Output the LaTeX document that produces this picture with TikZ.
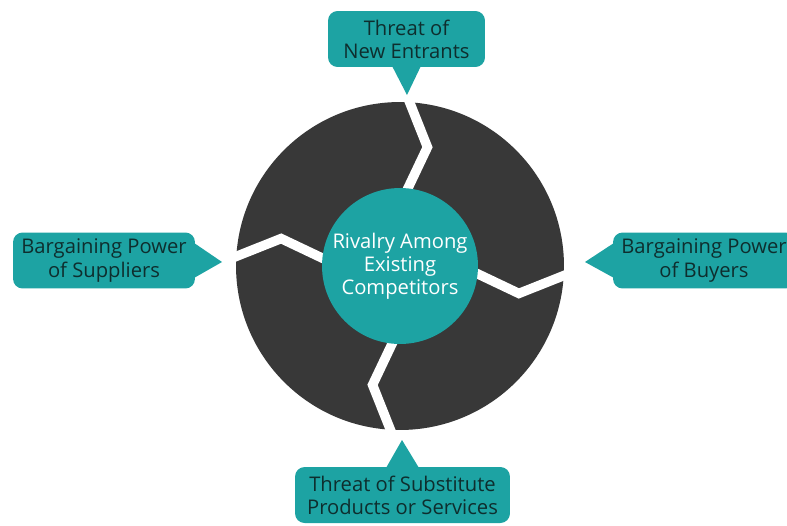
\documentclass[tikz,border=0pt]{standalone}
\usepackage{fontspec}
\setmainfont{Open Sans}
\usetikzlibrary{calc,positioning}
\usepackage{xcolor}
\definecolor{pfTeal}{HTML}{1DA3A3}
\definecolor{pfDark}{HTML}{383838}
\definecolor{pfText}{HTML}{0E2E2E}
\tikzstyle{force} = [%
  rectangle,
  rounded corners=5.5pt,
  fill=pfTeal,
  text=pfText,
  minimum height=1.12cm,
  inner sep=0pt,
  align=center
]
\tikzstyle{hub} = [%
  circle,
  fill=pfTeal,
  text=white,
  minimum size=3.12cm,
  inner sep=0pt,
  align=center
]

\begin{document}
\begin{tikzpicture}[%
  x=0.02cm,y=0.02cm,
  wheel/.style={%
    circle,
    fill=pfDark,
    minimum size=6.56cm,
    inner sep=0pt
  },
  gap/.style={%
    draw=white,
    line width=0.19cm,
    line join=miter
  },
  pointer/.style={fill=pfTeal},
  every node/.style={%
    font=\fontsize{11.5}{13.2}\selectfont
  }
]
  \clip (0,0) rectangle (787,525);
  \fill[white] (0,0) rectangle (787,525);

  % Wheel
  \coordinate (C) at (400,259);
  \node[wheel] (wheel) at (C) {};
  \foreach \a in {0,90,180,270}
    \draw[gap] ($(C)+(\a+88:66)$) -- ($(C)+(\a+77:122)$) -- ($(C)+(\a+89:180)$);
  \node[hub] (hub) at (C) {Rivalry Among\\Existing\\Competitors};

  % Forces
  \node[force,minimum width=3.14cm] (entrants) at (406.5,486) {Threat of\\New Entrants};
  \node[force,minimum width=3.64cm] (suppliers) at (104,264.5) {Bargaining Power\\of Suppliers};
  \node[force,minimum width=3.64cm] (buyers) at (704,264.5) {Bargaining Power\\of Buyers};
  \node[force,minimum width=4.3cm] (substitutes) at (402.5,30) {Threat of Substitute\\Products or Services};

  % Pointer tips
  \coordinate (entrantsTip) at (407,430);
  \coordinate (suppliersTip) at (222,263);
  \coordinate (buyersTip) at (585,263);
  \coordinate (substitutesTip) at (402,85);

  % Pointers
  \fill[pointer] ($(entrants.south)+(-14,0.5)$) -- (entrantsTip) -- ($(entrants.south)+(14,0.5)$) -- cycle;
  \fill[pointer] ($(suppliers.east)+(-0.5,17)$) -- (suppliersTip) -- ($(suppliers.east)+(-0.5,-17)$) -- cycle;
  \fill[pointer] ($(buyers.west)+(0.5,17)$) -- (buyersTip) -- ($(buyers.west)+(0.5,-17)$) -- cycle;
  \fill[pointer] ($(substitutes.north)+(-16,-0.5)$) -- (substitutesTip) -- ($(substitutes.north)+(16,-0.5)$) -- cycle;

\end{tikzpicture}
\end{document}
